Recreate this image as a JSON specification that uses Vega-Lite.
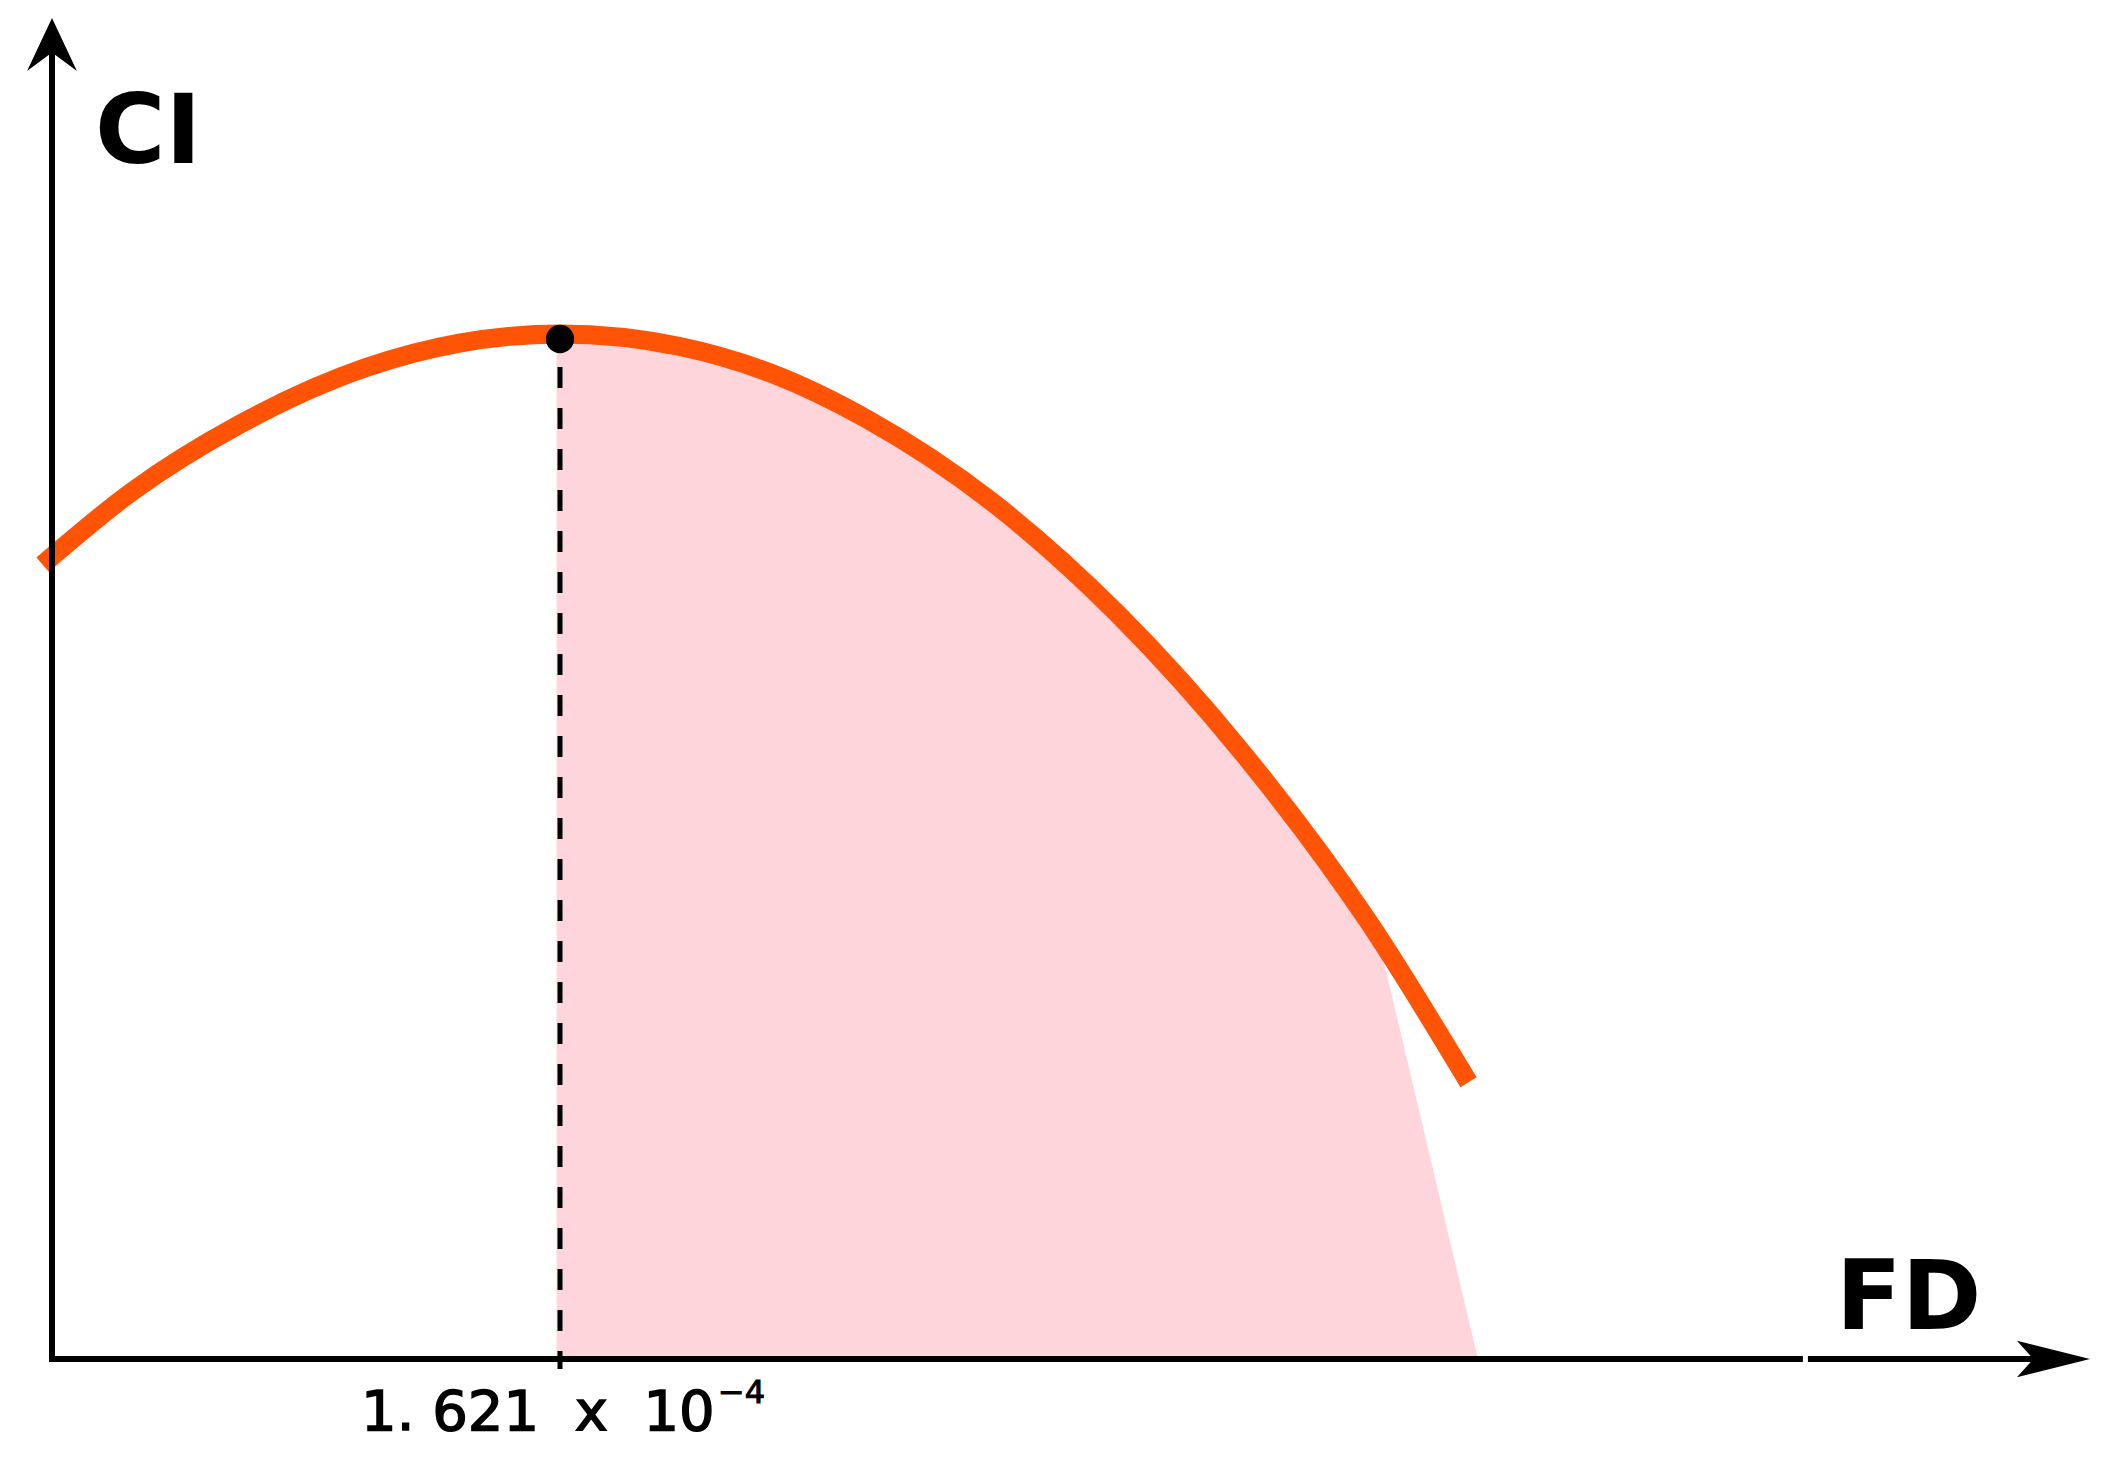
{
  "$schema": "https://vega.github.io/schema/vega-lite/v6.json",
  "width": 2103,
  "height": 1459,
  "padding": 0,
  "autosize": "none",
  "background": "white",
  "config": {"view": {"stroke": null}},
  "datasets": {
    "fill": [
      {"FD": 1.61, "CI": 1.0},
      {"FD": 2.272, "CI": 0.965},
      {"FD": 2.929, "CI": 0.858},
      {"FD": 3.577, "CI": 0.672},
      {"FD": 4.228, "CI": 0.4156},
      {"FD": 4.55, "CI": 0.0}
    ],
    "curve": [
      {"FD": -0.03, "CI": 0.775},
      {"FD": 0.25, "CI": 0.845},
      {"FD": 0.6, "CI": 0.912},
      {"FD": 1.0, "CI": 0.967},
      {"FD": 1.3, "CI": 0.991},
      {"FD": 1.621, "CI": 1.0},
      {"FD": 2.0, "CI": 0.988},
      {"FD": 2.3, "CI": 0.961},
      {"FD": 2.6, "CI": 0.917},
      {"FD": 3.0, "CI": 0.836},
      {"FD": 3.4, "CI": 0.727},
      {"FD": 3.8, "CI": 0.591},
      {"FD": 4.2, "CI": 0.427},
      {"FD": 4.52, "CI": 0.27}
    ],
    "dash": [{"FD": 1.621, "CI": 1.0078, "CI2": -0.0098}],
    "vaxis": [{"FD": 0, "CI": -0.003, "CI2": 1.282}],
    "haxis": [
      {"FD": 0, "FD2": 5.587, "CI": 0},
      {"FD": 5.603, "FD2": 6.407, "CI": 0}
    ],
    "peak": [{"FD": 1.621, "CI": 0.9951}],
    "arrowx": [{"FD": 6.503, "CI": 0}],
    "arrowy": [{"FD": 0, "CI": 1.3083}],
    "titles": [
      {"FD": 0.137, "CI": 1.1668, "label": "CI"},
      {"FD": 5.693, "CI": 0.0293, "label": "FD"}
    ],
    "ticklabel": [{"FD": 0.986, "CI": -0.0693, "label": "1.\u00a0621\u00a0\u00a0x\u00a0\u00a010"}],
    "sup": [{"FD": 2.125, "CI": -0.0425, "label": "\u22124"}]
  },
  "encoding": {
    "x": {"field": "FD", "type": "quantitative", "scale": {"domain": [-0.16593, 6.5446], "nice": false, "zero": false}, "axis": null},
    "y": {"field": "CI", "type": "quantitative", "scale": {"domain": [-0.09756, 1.32585], "nice": false, "zero": false}, "axis": null}
  },
  "layer": [
    {
      "data": {"name": "fill"},
      "mark": {"type": "area", "color": "#FFD5DC", "interpolate": "linear", "orient": "vertical", "opacity": 1},
      "encoding": {"y2": {"datum": 0}}
    },
    {
      "data": {"name": "curve"},
      "mark": {"type": "line", "color": "#FF5306", "strokeWidth": 19, "interpolate": "monotone", "strokeCap": "butt"}
    },
    {
      "data": {"name": "dash"},
      "mark": {"type": "rule", "color": "black", "strokeWidth": 5, "strokeDash": [21, 20]},
      "encoding": {"y2": {"field": "CI2"}}
    },
    {
      "data": {"name": "vaxis"},
      "mark": {"type": "rule", "color": "black", "strokeWidth": 6},
      "encoding": {"y2": {"field": "CI2"}}
    },
    {
      "data": {"name": "haxis"},
      "mark": {"type": "rule", "color": "black", "strokeWidth": 6},
      "encoding": {"x2": {"field": "FD2"}}
    },
    {
      "data": {"name": "peak"},
      "mark": {"type": "point", "filled": true, "color": "black", "opacity": 1, "size": 800, "shape": "circle"}
    },
    {
      "data": {"name": "arrowx"},
      "mark": {"type": "point", "filled": true, "color": "black", "opacity": 1, "size": 5329, "shape": "M0,0L-2,-0.5L-1.55,0L-2,0.5Z"}
    },
    {
      "data": {"name": "arrowy"},
      "mark": {"type": "point", "filled": true, "color": "black", "opacity": 1, "size": 2809, "shape": "M0,0L-0.94,2L0,1.3L0.94,2Z"}
    },
    {
      "data": {"name": "titles"},
      "mark": {"type": "text", "font": "DejaVu Sans", "fontWeight": "bold", "fontSize": 96, "align": "left", "baseline": "alphabetic", "color": "black"},
      "encoding": {"text": {"field": "label"}}
    },
    {
      "data": {"name": "ticklabel"},
      "mark": {"type": "text", "font": "DejaVu Sans", "fontSize": 56, "align": "left", "baseline": "alphabetic", "color": "black", "stroke": "black", "strokeWidth": 1.5},
      "encoding": {"text": {"field": "label"}}
    },
    {
      "data": {"name": "sup"},
      "mark": {"type": "text", "font": "DejaVu Sans", "fontSize": 32, "align": "left", "baseline": "alphabetic", "color": "black", "stroke": "black", "strokeWidth": 1},
      "encoding": {"text": {"field": "label"}}
    }
  ]
}
